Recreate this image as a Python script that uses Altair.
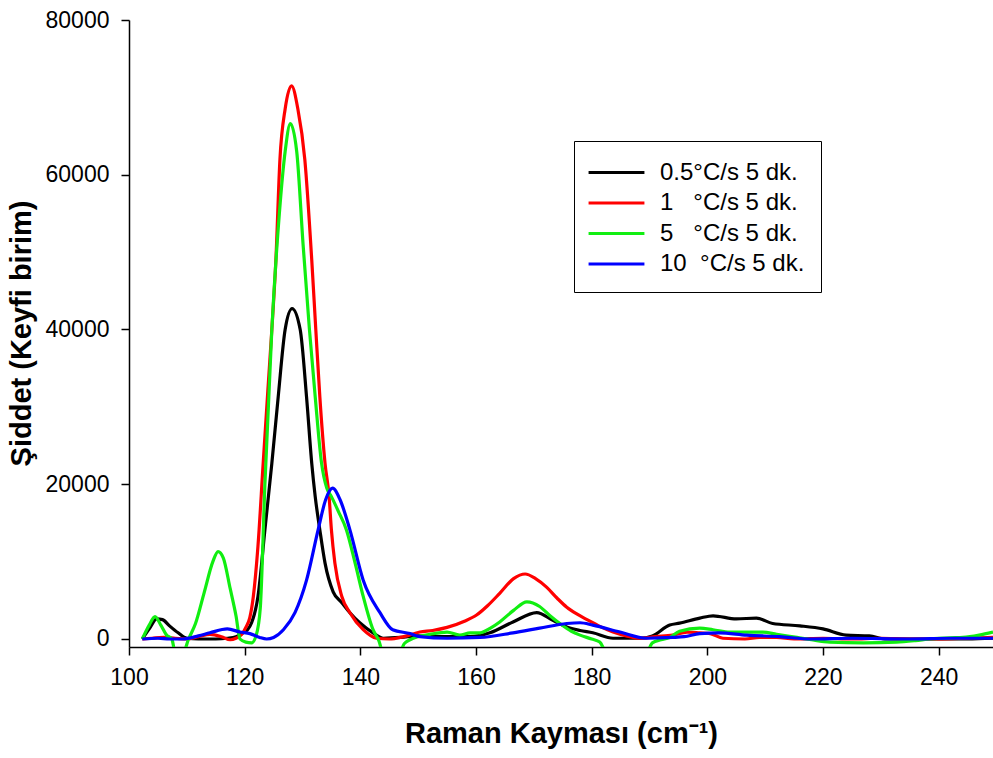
import altair as alt
import pandas as pd

# Series labels (non-breaking spaces keep the original alignment)
labels = [
    "0.5°C/s 5 dk.",
    "\u00a01\u00a0\u00a0\u00a0°C/s 5 dk.",
    "\u00a05\u00a0\u00a0\u00a0°C/s 5 dk.",
    "10\u00a0\u00a0°C/s 5 dk.",
]
colors = ["#000000", "#ff0000", "#11ee11", "#0000ff"]

# 0.5 °C/s
bx = [102.3, 103.5, 104.8, 105.8, 107.0, 108.5, 110.0, 112.0, 115.0, 117.0, 118.5, 119.7, 120.5, 121.2,
      122.3, 123.5, 124.7, 125.8, 127.0, 128.2, 129.6, 130.7, 131.6, 132.2, 133.0, 133.9, 135.3, 136.8,
      138.2, 139.9, 142.2, 144.0, 147.0, 150.0, 153.0, 156.0, 159.0, 162.4, 166.4, 170.5, 173.3, 175.7,
      178.0, 180.2, 183.7, 188.3, 190.5, 193.5, 195.2, 198.7, 201.0, 205.0, 208.5, 211.3, 216.0, 220.0,
      224.0, 228.0, 231.0, 236.0, 240.0, 245.0, 249.4]
by = [0, 1300, 2600, 2500, 1700, 800, 100, 0, 0, 100, 300, 800, 1200, 2100,
      5500, 14100, 22700, 31300, 40000, 42700, 40000, 31300, 22700, 18400, 14100, 9800, 6100, 4700,
      3400, 2100, 800, 100, 200, 400, 300, 300, 300, 800, 2200, 3400, 2400, 1550,
      1100, 800, 100, 100, 400, 1800, 2050, 2700, 3000, 2600, 2700, 2000, 1700, 1300,
      500, 400, 0, 0, 0, 0, 100]

# 1 °C/s
rx = [102.3, 104.0, 106.0, 108.0, 110.0, 112.0, 114.0, 116.0, 117.5, 118.5, 119.5, 120.2, 120.9, 121.5,
      122.3, 123.2, 124.0, 124.7, 125.4, 126.1, 127.0, 128.1, 129.2, 130.4, 131.6, 132.3, 133.0, 133.9,
      134.6, 135.0, 135.6, 136.8, 138.2, 140.5, 142.8, 145.0, 147.5, 150.3, 152.5, 155.0, 158.0, 160.1,
      162.0, 164.1, 166.5, 168.5, 170.3, 172.2, 174.0, 175.7, 177.5, 179.2, 181.5, 183.7, 186.0, 188.3,
      191.0, 194.0, 196.5, 198.7, 200.5, 202.7, 206.5, 209.0, 212.0, 215.0, 220.0, 225.0, 230.0, 235.0,
      240.0, 245.0, 249.4]
ry = [0, 100, 200, 100, 0, 300, 600, 300, -100, 100, 600, 1500, 2800, 5500,
      12000, 22700, 32000, 40000, 49000, 62000, 68500, 71500, 68500, 62000, 49000, 40000, 31300, 22700,
      18400, 14100, 9800, 5500, 3400, 1200, 100, 0, 300, 900, 1100, 1500, 2300, 3100,
      4300, 5900, 7800, 8400, 7800, 6700, 5300, 4100, 3200, 2500, 1600, 900, 400, 100,
      300, 500, 900, 800, 700, 100, 0, 200, 200, 0, 100, 0, 100, 0,
      0, 100, 200]

# 5 °C/s
gx = [102.3, 103.5, 104.5, 105.5, 106.5, 107.4, 108.0, 109.4, 110.3, 111.5, 113.0, 114.5, 115.4, 116.3,
      117.5, 118.5, 119.2, 120.2, 121.2, 122.0, 122.7, 123.5, 124.7, 126.0, 127.0, 127.9, 129.0, 130.1,
      131.2, 132.2, 133.3, 134.2, 135.0, 136.2, 137.6, 139.1, 140.5, 142.2, 143.2, 143.9, 146.8, 147.6,
      148.6, 150.0, 152.0, 155.0, 157.2, 159.0, 160.7, 162.5, 164.1, 166.5, 168.8, 171.0, 172.8, 174.5,
      176.5, 178.0, 180.0, 181.4, 182.6, 189.5, 190.5, 192.0, 193.5, 195.2, 198.7, 201.0, 203.9, 209.6,
      212.0, 215.5, 218.0, 221.2, 227.0, 232.7, 236.0, 238.5, 242.0, 244.2, 247.0, 249.4]
gy = [0, 1800, 2900, 1800, 500, 0, -1700, -1700, 0, 2000, 6000, 10000, 11300, 10500,
      6500, 3000, 0, -400, -500, 500, 4000, 20000, 40000, 55000, 63000, 66600, 63000, 51000,
      40000, 31300, 22700, 19500, 18400, 16500, 14100, 9800, 5500, 1200, -200, -1700, -1700, -600,
      -100, 300, 600, 900, 500, 800, 800, 1400, 2200, 3700, 4800, 4200, 3000, 2000,
      1000, 500, 0, -400, -1700, -1700, -500, -100, 200, 1000, 1400, 1200, 900, 900,
      600, 200, -100, -400, -500, -400, -200, 0, 150, 200, 500, 900]

# 10 °C/s
ux = [102.3, 105.0, 107.0, 109.3, 112.0, 114.0, 117.0, 119.2, 120.9, 122.6, 123.8, 125.0, 126.7, 128.7,
      130.7, 132.7, 134.0, 135.2, 136.5, 138.2, 140.5, 143.4, 145.6, 148.6, 150.3, 155.0, 160.7, 166.4,
      171.0, 175.7, 178.0, 180.2, 184.9, 189.5, 194.0, 196.0, 198.7, 202.0, 206.8, 212.5, 218.0, 225.0,
      235.0, 242.0, 249.4]
uy = [0, 100, 0, 0, 400, 800, 1300, 900, 700, 200, 0, 200, 1200, 3400,
      7600, 14100, 18000, 19500, 18000, 14100, 7600, 3400, 1200, 700, 300, 100, 200, 800,
      1400, 2000, 2100, 1800, 900, 100, 200, 300, 700, 800, 500, 300, 0, 100,
      0, 100, 100]

x_ticks = [100, 120, 140, 160, 180, 200, 220, 240]
y_ticks = [0, 20000, 40000, 60000, 80000]

frames = []
for i, (xs, ys) in enumerate([(bx, by), (rx, ry), (gx, gy), (ux, uy)]):
    frames.append(pd.DataFrame({"shift": xs, "intensity": ys, "series": labels[i], "order": i}))
df = pd.concat(frames, ignore_index=True)

FONT = "Liberation Sans"

chart = alt.Chart(df).mark_line(
    interpolate="monotone", strokeWidth=3.2, clip=True
).encode(
    x=alt.X(
        "shift:Q",
        scale=alt.Scale(domain=[100, 249.4], nice=False, zero=False),
        axis=alt.Axis(
            title="Raman Kayması (cm⁻¹)",
            values=x_ticks,
            format="d",
            labelFlush=False,
            titleY=95,
            titleBaseline="alphabetic",
        ),
    ),
    y=alt.Y(
        "intensity:Q",
        scale=alt.Scale(domain=[-1034, 80000], nice=False, zero=False),
        axis=alt.Axis(
            title="Şiddet (Keyfi birim)",
            values=y_ticks,
            format="d",
            labelFlush=False,
            titleX=-99,
            titleY=313,
            titleAngle=-90,
            titleAlign="center",
            titleBaseline="alphabetic",
        ),
    ),
    color=alt.Color(
        "series:N",
        sort=labels,
        scale=alt.Scale(domain=labels, range=colors),
        legend=alt.Legend(
            title=None,
            orient="none",
            legendX=445,
            legendY=121,
            strokeColor="black",
            fillColor="white",
            padding=16,
            symbolType="M-2,0L2,0",
            symbolStrokeWidth=3,
            symbolSize=780,
            symbolOffset=11,
            labelFontSize=24,
            labelFont=FONT,
            labelColor="black",
            labelOffset=28,
            rowPadding=2.5,
        ),
    ),
    order=alt.Order("order:Q"),
).properties(
    width=864,
    height=627,
    autosize=alt.AutoSizeParams(type="none"),
    padding={"left": 129, "top": 20, "right": 0, "bottom": 111},
).configure_view(
    stroke=None
).configure_axis(
    grid=False,
    domainColor="black",
    domainWidth=1.5,
    tickColor="black",
    tickWidth=1.5,
    tickSize=8,
    labelFont=FONT,
    labelFontSize=23,
    labelColor="black",
    titleFont=FONT,
    titleFontSize=29,
    titleFontWeight="bold",
    titleColor="black",
).configure_axisX(
    labelPadding=11,
).configure_axisY(
    labelPadding=12,
)

chart.save("out.html", embed_options={"renderer": "svg", "actions": False})
